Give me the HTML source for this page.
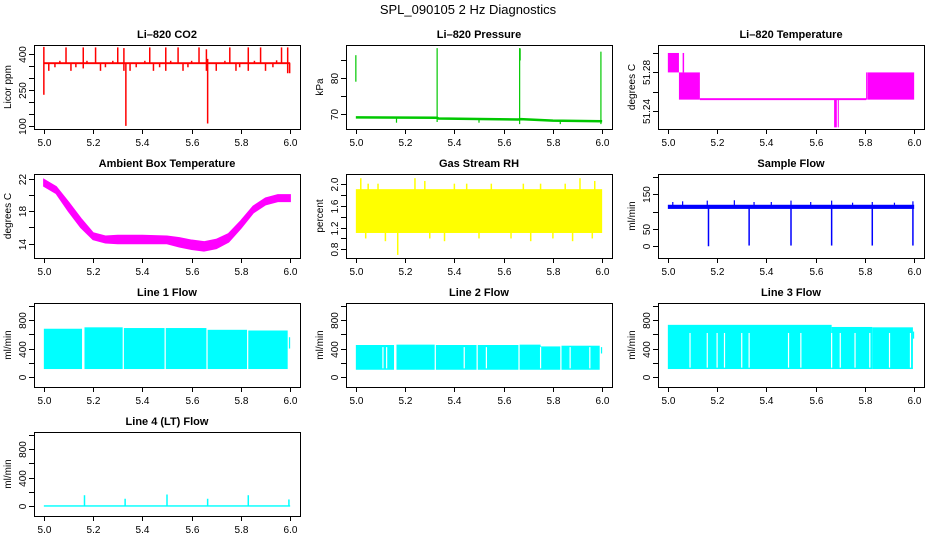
<!DOCTYPE html>
<html><head><meta charset="utf-8"><style>
html,body{margin:0;padding:0;background:#fff;}
svg{display:block;font-family:"Liberation Sans",Arial,sans-serif;}
</style></head><body>
<svg id="fig" width="936" height="540" viewBox="0 0 936 540">
<rect width="936" height="540" fill="#fff"/>
<text x="468" y="14" text-anchor="middle" font-size="13">SPL_090105  2 Hz Diagnostics</text>
</svg>
<script>
// ---- shared axis data ----
const xTicks = [5.0, 5.2, 5.4, 5.6, 5.8, 6.0];
const xTickLabels = ["5.0", "5.2", "5.4", "5.6", "5.8", "6.0"];
const flowTicks = [0, 200, 400, 600, 800, 1000];
const flowTickLabels = ["0", "", "400", "", "800", ""];

// ---- CO2 ----
const co2Base = [[5.0, 6.0, 358, 366]];
const co2Spikes = [[5.0, 230, 430], [5.09, 362, 428], [5.16, 340, 428], [5.21, 362, 428], [5.30, 362, 428], [5.325, 330, 425], [5.333, 100, 362], [5.43, 362, 428], [5.495, 330, 428], [5.545, 362, 428], [5.63, 362, 428], [5.66, 330, 420], [5.665, 110, 380], [5.755, 362, 428], [5.83, 330, 428], [5.88, 362, 428], [5.965, 362, 428], [5.99, 320, 428],
 [5.02, 330, 362], [5.045, 345, 362], [5.11, 330, 362], [5.13, 345, 362], [5.23, 330, 362], [5.25, 345, 362], [5.35, 330, 362], [5.375, 345, 362], [5.445, 330, 362], [5.47, 345, 362], [5.565, 330, 362], [5.585, 345, 362], [5.70, 330, 362], [5.78, 330, 362], [5.795, 345, 362], [5.90, 330, 362], [5.93, 345, 362], [5.998, 320, 362],
 [5.065, 362, 372], [5.175, 362, 372], [5.28, 362, 372], [5.41, 362, 372], [5.515, 362, 372], [5.60, 362, 372], [5.735, 362, 372], [5.855, 362, 372], [5.945, 362, 374]];
// ---- Pressure ----
const presLine = [[5.0, 68.9], [5.33, 68.8], [5.335, 68.6], [5.66, 68.3], [5.67, 68.4], [5.8, 68.0], [6.0, 67.8]];
const presSpikes = [[5.0, 79, 86.5], [5.33, 67.6, 88.5], [5.665, 67.0, 88.5], [5.667, 85, 88.4], [5.995, 67.0, 87.5], [5.165, 67.4, 68.9], [5.5, 67.4, 68.6], [5.83, 67.0, 68.1]];
// ---- Li-820 temperature ----
const ltBands = [[5.0, 5.045, 51.28, 51.30], [5.06, 5.066, 51.28, 51.30], [5.045, 5.13, 51.252, 51.28], [5.13, 5.805, 51.2515, 51.2535], [5.675, 5.686, 51.2235, 51.253], [5.69, 5.693, 51.2235, 51.253], [5.805, 5.807, 51.252, 51.28], [5.81, 6.0, 51.252, 51.28]];
// ---- Ambient ----
const ambX = [5.0, 5.05, 5.1, 5.15, 5.2, 5.25, 5.3, 5.4, 5.5, 5.55, 5.6, 5.65, 5.7, 5.75, 5.8, 5.85, 5.9, 5.95, 6.0];
const ambHi = [21.9, 21.0, 19.1, 17.1, 15.3, 14.9, 15.0, 15.0, 14.9, 14.7, 14.4, 14.2, 14.5, 15.2, 16.8, 18.6, 19.6, 20.0, 20.0];
const ambLo = [21.1, 20.2, 18.0, 16.0, 14.5, 14.1, 14.0, 14.0, 14.0, 13.6, 13.3, 13.1, 13.4, 14.2, 15.9, 17.8, 18.8, 19.2, 19.2];
// ---- RH ----
const rhBand = [[5.0, 6.0, 1.1, 1.9]];
const rhSpikes = [[5.02, 2.1], [5.05, 2.0], [5.09, 2.0], [5.17, 0.7], [5.24, 2.1], [5.28, 2.05], [5.3, 1.0], [5.45, 2.0], [5.5, 1.0], [5.55, 2.0], [5.63, 1.0], [5.68, 2.0], [5.75, 2.0], [5.8, 1.0], [5.85, 2.0], [5.91, 2.1], [5.96, 1.0], [5.12, 0.95], [5.36, 0.95], [5.71, 0.95], [5.88, 0.95], [5.04, 1.0], [5.4, 2.0], [5.97, 2.05]];
// ---- Sample flow ----
const sfBand = [[5.0, 6.0, 108, 120]];
const sfDips = [[5.165, 0], [5.33, 2], [5.5, 2], [5.665, 2], [5.83, 2], [5.995, 2]];
const sfSpikes = [[5.02, 128], [5.06, 130], [5.16, 132], [5.27, 133], [5.35, 128], [5.42, 128], [5.5, 132], [5.58, 128], [5.665, 132], [5.75, 126], [5.83, 128], [5.92, 126], [5.995, 130]];
// ---- Line flows ----
const l1Bands = [[5.0, 5.155, 110, 680], [5.165, 5.32, 110, 700], [5.325, 5.49, 110, 690], [5.495, 5.66, 110, 690], [5.665, 5.825, 110, 665], [5.83, 5.99, 110, 655], [5.995, 6.0, 400, 560]];
const l1Gaps = [];
const l2Bands = [[5.0, 5.155, 100, 450], [5.165, 5.32, 100, 455], [5.325, 5.49, 100, 450], [5.495, 5.66, 100, 450], [5.665, 5.75, 100, 455], [5.75, 5.83, 100, 430], [5.835, 5.99, 100, 440], [5.995, 6.0, 330, 420]];
const l2Gaps = [5.11, 5.125, 5.44, 5.53, 5.75, 5.87, 5.95];
const l3Bands = [[5.0, 5.665, 110, 735], [5.665, 5.83, 110, 705], [5.83, 5.995, 110, 700], [5.995, 6.0, 540, 640]];
const l3Gaps = [5.09, 5.16, 5.2, 5.23, 5.3, 5.33, 5.49, 5.54, 5.665, 5.7, 5.76, 5.82, 5.9, 5.985];
const l4Base = [[5.0, 6.0, -12, 8]];
const l4Spikes = [[5.165, 150], [5.33, 100], [5.5, 160], [5.665, 100], [5.83, 150], [5.995, 90]];

const svg = document.getElementById('fig');
const NS = 'http://www.w3.org/2000/svg';
function mk(tag, attrs, parent) {
  const e = document.createElementNS(NS, tag);
  for (const k in attrs) e.setAttribute(k, attrs[k]);
  (parent || svg).appendChild(e);
  return e;
}
const colL = [34, 346, 658], rowT = [45, 174, 303, 432], BW = 266, BH = 84;

function panel(name, col, row, title, ylab, ylim, yTicks, yLabels) {
  const L = colL[col], T = rowT[row];
  const xr = [4.96, 6.04];
  const yd = (ylim[1] - ylim[0]) * 0.04, yr = [ylim[0] - yd, ylim[1] + yd];
  const sx = v => L + (v - xr[0]) / (xr[1] - xr[0]) * BW;
  const sy = v => T + BH - (v - yr[0]) / (yr[1] - yr[0]) * BH;
  const g = mk('g', {});
  
  
  const clip = mk('clipPath', { id: 'c' + name }, g);
  mk('rect', { x: L, y: T, width: BW, height: BH }, clip);
  const plot = mk('g', { 'clip-path': 'url(#c' + name + ')' }, g);
  
  
  const t = mk('text', { x: L + BW / 2, y: T - 7, 'text-anchor': 'middle', 'font-size': 11, 'font-weight': 'bold' }, g);
  t.textContent = title;
  
  
  const yl = mk('text', { x: 0, y: 0, 'text-anchor': 'middle', 'font-size': 10, transform: 'translate(' + (L - 23) + ',' + (T + BH / 2) + ') rotate(-90)' }, g);
  yl.textContent = ylab;
  
  
  const ax = mk('g', { stroke: '#000', 'stroke-width': 1 }, g);
  
  
  xTicks.forEach((v, i) => {
    const x = Math.round(sx(v)) + 0.5;
    mk('line', { x1: x, x2: x, y1: T + BH, y2: T + BH + 5 }, ax);
    const tl = mk('text', { x: x, y: T + BH + 17, 'text-anchor': 'middle', 'font-size': 10, stroke: 'none' }, ax);
    tl.textContent = xTickLabels[i];
    
    
  });
  yTicks.forEach((v, i) => {
    const y = Math.round(sy(v)) + 0.5;
    mk('line', { x1: L - 5, x2: L, y1: y, y2: y }, ax);
    if (yLabels[i]) {
      const tl = mk('text', { x: 0, y: 0, 'text-anchor': 'middle', 'font-size': 10, stroke: 'none', transform: 'translate(' + (L - 8) + ',' + y + ') rotate(-90)' }, ax);
      tl.textContent = yLabels[i];
      
      
    }
  });
  mk('rect', { x: L + 0.5, y: T + 0.5, width: BW, height: BH, fill: 'none', stroke: '#000' }, g);
  return {
    band(arr, color) { arr.forEach(b => { const r = mk('rect', { x: sx(b[0]), y: sy(b[3]), width: Math.max(1, sx(b[1]) - sx(b[0])), height: Math.max(1, sy(b[2]) - sy(b[3])), fill: color }, plot);   }); },
    seg(arr, color, w) { arr.forEach(s => { const l = mk('line', { x1: sx(s[0]), x2: sx(s[0]), y1: sy(s[1]), y2: sy(s[2]), stroke: color, 'stroke-width': w || 1.3 }, plot);   }); },
    line(pts, color, w) { const p = mk('polyline', { points: pts.map(q => sx(q[0]) + ',' + sy(q[1])).join(' '), fill: 'none', stroke: color, 'stroke-width': w }, plot);   },
    area(xs, hi, lo, color) { const pts = xs.map((x, i) => sx(x) + ',' + sy(hi[i])).concat(xs.map((x, i) => sx(x) + ',' + sy(lo[i])).reverse()); const p = mk('polygon', { points: pts.join(' '), fill: color, stroke: color, 'stroke-width': 1.5 }, plot);   },
    gaps(xs, lo, hi) { xs.forEach(x => { const l = mk('line', { x1: sx(x), x2: sx(x), y1: sy(lo), y2: sy(hi), stroke: '#fff', 'stroke-width': 1.2 }, plot);   }); }
  };
}

let p;
p = panel('co2', 0, 0, 'Li\u2013820 CO2', 'Licor ppm', [100, 425], [100, 150, 200, 250, 300, 350, 400], ['100', '', '', '250', '', '', '400']);
p.band(co2Base, '#f00'); p.seg(co2Spikes, '#f00', 1.5);
p = panel('pressure', 1, 0, 'Li\u2013820 Pressure', 'kPa', [66.5, 88.5], [70, 75, 80, 85], ['70', '', '80', '']);
p.line(presLine, '#00c800', 2.5); p.seg(presSpikes, '#00c800', 1.2);
p = panel('li-temp', 2, 0, 'Li\u2013820 Temperature', 'degrees C', [51.225, 51.305], [51.24, 51.26, 51.28, 51.30], ['51.24', '', '51.28', '']);
p.band(ltBands, '#f0f');
p = panel('ambient', 0, 1, 'Ambient Box Temperature', 'degrees C', [12.6, 22.2], [14, 16, 18, 20, 22], ['14', '', '18', '', '22']);
p.area(ambX, ambHi, ambLo, '#f0f');
p = panel('rh', 1, 1, 'Gas Stream RH', 'percent', [0.7, 2.12], [0.8, 1.0, 1.2, 1.4, 1.6, 1.8, 2.0], ['0.8', '', '1.2', '', '1.6', '', '2.0']);
p.band(rhBand, '#ff0'); p.seg(rhSpikes.map(s => [s[0], Math.min(s[1], 1.5), Math.max(s[1], 1.5)]), '#ff0', 1.5);
p = panel('sample-flow', 2, 1, 'Sample Flow', 'ml/min', [-25, 200], [0, 50, 100, 150, 200], ['0', '50', '', '150', '']);
p.band(sfBand, '#00f'); p.seg(sfDips.map(d => [d[0], d[1], 115]), '#00f', 1.5); p.seg(sfSpikes.map(s => [s[0], 114, s[1]]), '#00f', 1.2);
p = panel('line1', 0, 2, 'Line 1 Flow', 'ml/min', [-100, 1000], flowTicks, flowTickLabels);
p.band(l1Bands, '#0ff'); p.gaps(l1Gaps, 100, 800);
p = panel('line2', 1, 2, 'Line 2 Flow', 'ml/min', [-100, 1000], flowTicks, flowTickLabels);
p.band(l2Bands, '#0ff'); p.gaps(l2Gaps, 120, 420);
p = panel('line3', 2, 2, 'Line 3 Flow', 'ml/min', [-100, 1000], flowTicks, flowTickLabels);
p.band(l3Bands, '#0ff'); p.gaps(l3Gaps, 130, 620);
p = panel('line4', 0, 3, 'Line 4 (LT) Flow', 'ml/min', [-100, 1000], flowTicks, flowTickLabels);
p.band(l4Base, '#0ff'); p.seg(l4Spikes.map(s => [s[0], 0, s[1]]), '#0ff', 1.5);
</script>
</body></html>
